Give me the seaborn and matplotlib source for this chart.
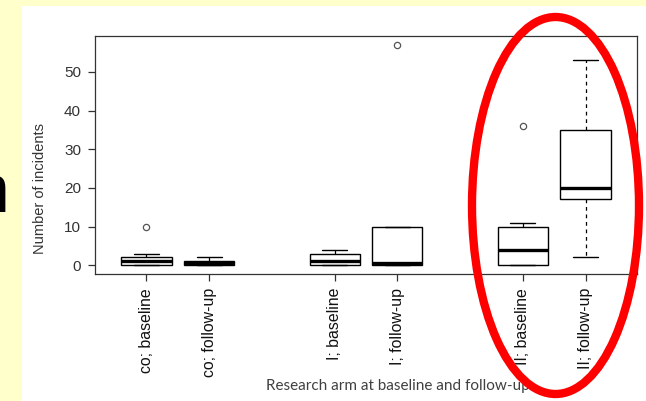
import pandas as pd
import seaborn as sns
import matplotlib.pyplot as plt
from matplotlib.patches import Ellipse, Rectangle

# incidents per participant
groups = ["co; baseline", "co; follow-up", "I; baseline", "I; follow-up",
          "II; baseline", "II; follow-up"]
co_baseline = [0, 0, 0, 1, 1, 2, 2, 3, 10]
co_followup = [0, 0, 0, 0, 0, 1, 1, 1, 2, 2]
i_baseline = [0, 0, 0, 1, 1, 2, 3, 4, 4]
i_followup = [0, 0, 0, 0, 0, 1, 10, 10, 10, 57]
ii_baseline = [0, 0, 0, 2, 4, 7, 10, 11, 36]
ii_followup = [2, 10, 17, 18, 20, 25, 35, 45, 53]
y_ticks = [0, 10, 20, 30, 40, 50]

series = [co_baseline, co_followup, i_baseline, i_followup, ii_baseline, ii_followup]
# gap of one slot between the three arms
pos = [i + i // 2 + 1 for i in range(len(groups))]
rows = []
for p, vals in zip(pos, series):
    for v in vals:
        rows.append({"pos": p, "incidents": v})
df = pd.DataFrame(rows)

sns.set_style("white")
plt.rcParams["font.family"] = ["Liberation Sans", "DejaVu Sans"]

fig = plt.figure(figsize=(6.46, 4.01), dpi=100)
fig.patch.set_facecolor("#FFFFCC")
fig.add_artist(Rectangle((22 / 646, 0), 1 - 22 / 646, 1 - 6 / 401,
                         transform=fig.transFigure, facecolor="white",
                         edgecolor="none", zorder=0))

ax = fig.add_axes([95 / 646, 1 - 274 / 401, 542 / 646, 238 / 401])
ax.set_facecolor("white")

sns.boxplot(data=df, x="pos", y="incidents", native_scale=True, ax=ax,
            color="white", linecolor="black", linewidth=1, width=0.8,
            saturation=1, whis=1.5, capwidths=0.4,
            medianprops={"linewidth": 2.4, "color": "black"},
            whiskerprops={"linestyle": (0, (3, 3)), "linewidth": 0.9},
            flierprops={"marker": "o", "markersize": 4.5,
                        "markerfacecolor": "none",
                        "markeredgecolor": "#555555", "markeredgewidth": 0.9})

ax.set_xlim(0.18, 8.82)
ax.set_ylim(-2.28, 59.28)
ax.set_yticks(y_ticks)
ax.set_yticklabels([str(t) for t in y_ticks], fontsize=11, color="#333333")
ax.set_xticks(pos)
ax.set_xticklabels(groups, rotation=90, fontsize=11.4, color="#111111")
ax.tick_params(axis="both", direction="out", length=5, width=0.9,
               color="#333333", pad=5, left=True, bottom=True)
for s in ax.spines.values():
    s.set_visible(True)
    s.set_color("#333333")
    s.set_linewidth(0.9)

ax.set_ylabel("Number of incidents", fontsize=10.5, color="#333333")
ax.yaxis.set_label_coords(-0.088, 0.361)
ax.set_xlabel("Research arm at baseline and follow-up", fontsize=11,
              color="#404040", family=["Lato", "DejaVu Sans"])
ax.xaxis.set_label_coords(0.559, -0.44)

# cut-off slide text at the left edge
fig.text(9 / 646, 1 - 212 / 401, "n", fontsize=49, ha="right",
         va="baseline", color="black")

# red highlight ellipse
fig.add_artist(Ellipse((555.5 / 646, 1 - 205.5 / 401), 167 / 646, 377 / 401,
                       transform=fig.transFigure, fill=False,
                       edgecolor="#FF0000", linewidth=6, zorder=10))

plt.savefig("out.png", dpi=100)
